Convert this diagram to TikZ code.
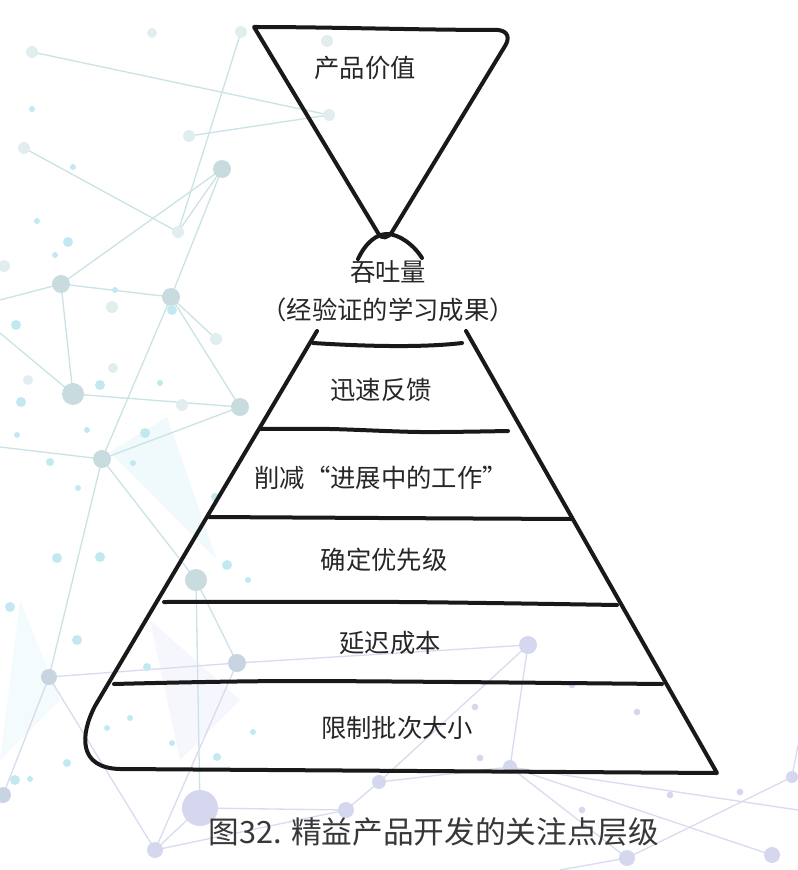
\documentclass[tikz,border=0pt]{standalone}
\usepackage{fontspec}
\newfontfamily\cjk{Noto Sans CJK SC}
\definecolor{dotpale}{HTML}{E2EDEF}
\definecolor{dotgray}{HTML}{C8DCE0}
\definecolor{dotcyan}{HTML}{C2E9F2}
\definecolor{dotblue}{HTML}{C9D4E2}
\definecolor{dotlav}{HTML}{D4D7EE}
\definecolor{webteal}{HTML}{CBE3E6}
\definecolor{weblav}{HTML}{D9DBEF}
\tikzset{
  ink/.style={line width=3pt,line cap=round,line join=round,draw=black!90},
  lbl/.style={font=\cjk\fontsize{19}{22}\selectfont,text=black!85,inner sep=0pt},
  webline/.style={line width=1pt,draw=webteal},
  lavline/.style={line width=1pt,draw=weblav}
}
\begin{document}
\begin{tikzpicture}[x=0.75pt,y=-0.75pt]
  \useasboundingbox (0,0) rectangle (798,870);
  % background web
  \fill[dotcyan,opacity=0.25] (167,417) -- (110,452) -- (217,560) -- cycle;
  \fill[dotcyan,opacity=0.2] (20,600) -- (60,700) -- (0,760) -- cycle;
  \fill[dotlav,opacity=0.2] (150,620) -- (240,700) -- (180,760) -- cycle;
  \foreach \n/\x/\y in {e1/0/300,e2/0/333,e3/0/447,e6/798/745,e7/560/870,e8/798/810}
    \coordinate (\n) at (\x,\y);
  \foreach \n/\x/\y in {a1/152/33,a2/32/52,a3/241/32,a4/327/41,a5/329/115,a6/189/136,
      a7/24/148,a10/222/169,a12/178/232,a15/4/266,a16/61/284,a17/171/297,a19/112/307,
      a22/216/339,a23/73/394,a24/240/407,a25/113/368,a27/28/380,a30/182/405,
      b1/102/459,b2/196/580,b3/237/663,b4/49/677,b5/200/808,b6/155/850,b7/3/795,
      c1/528/645,c2/510/767,c3/772/855,c4/627/858,c5/792/777,c6/346/810,c7/379/782}
    \coordinate (\n) at (\x,\y);
  \foreach \a/\b in {a2/a5,a3/a12,a6/a5,a7/a12,a10/a16,a10/a17,a16/a17,a16/e1,a16/a23,
      a17/a24,a17/b1,a23/a24,a23/e2,a12/a10,a24/b1,b1/e3,b1/b2,b1/b4,b2/b3,b2/b5,a22/a17}
    \draw[webline] (\a) -- (\b);
  \foreach \a/\b in {b3/b4,b3/b6,b4/b6,b4/b7,b3/c1,c1/c2,c1/c7,c2/c3,c2/c4,c5/c4,
      b5/c6,c6/c7,b6/c6,c7/c2,b5/b6,c5/e6,c2/e8,c4/e7}
    \draw[lavline] (\a) -- (\b);
  \foreach \n/\r/\c in {a1/5/dotpale,a2/6/dotpale,a3/6/dotpale,a4/6/dotpale,a5/6/dotpale,
      a6/6/dotpale,a7/6/dotpale,a10/9/dotgray,a12/6/dotpale,a15/6/dotpale,a16/9/dotgray,
      a17/9/dotgray,a19/6/dotpale,a22/6/dotpale,a23/11/dotgray,a24/9/dotgray,a25/5/dotpale,
      a27/5/dotpale,a30/6/dotpale,b1/9/dotgray,b2/11/dotgray,b3/9/dotblue,b4/8/dotblue,
      b5/18/dotlav,b6/8/dotlav,b7/8/dotblue,c1/9/dotlav,c2/7/dotlav,c3/8/dotlav,
      c4/8/dotlav,c5/6/dotlav,c6/8/dotlav,c7/7/dotlav}
    \fill[\c] (\n) circle[radius=0.75pt*\r];
  \foreach \x/\y/\r in {32/109/3,73/167/3,37/221/3,68/242/5,55/255/3,115/290/3,172/310/5,
      16/325/5,100/385/5,21/402/5,160/383/3,50/462/4,17/435/3,57/558/5,100/557/5,10/607/5,
      77/640/5,147/667/4,227/565/5,215/497/4,248/580/3,87/430/3,78/488/3,133/463/3,
      145/433/5,67/763/4,15/780/5,30/779/3,107/728/3,130/718/3,172/743/3,217/757/4,253/732/3}
    \fill[dotcyan] (\x,\y) circle[radius=0.75pt*\r];
  \foreach \x/\y in {582/810,740/792,670/795,637/712,475/707,480/758,572/685}
    \fill[dotlav] (\x,\y) circle[radius=2.5pt];
  % funnel
  \draw[ink] (254,27) .. controls (330,27) and (420,30) .. (498,30)
    .. controls (508,31) and (510,38) .. (505,46) -- (392,232)
    .. controls (388,238) and (382,240) .. (378,233) -- cycle;
  \draw[ink] (358,259) .. controls (366,242) and (377,234) .. (387,234)
    .. controls (399,234) and (414,245) .. (422,258);
  % pyramid
  \draw[ink] (317,331) -- (95,706) .. controls (80,735) and (78,768) .. (120,769)
    -- (717,773) -- (466,331);
  \draw[ink] (313,343) .. controls (360,346) and (420,348) .. (462,343);
  \draw[ink] plot[smooth] coordinates {(261,429) (330,429) (420,432) (508,431)};
  \draw[ink] plot[smooth] coordinates {(209,517) (380,518) (571,519)};
  \draw[ink] plot[smooth] coordinates {(164,602) (400,602) (617,605)};
  \draw[ink] plot[smooth] coordinates {(114,684) (300,681) (662,684)};
  % labels
  \node[lbl] (value) at (365,68) {产品价值};
  \node[lbl] (thru) at (388,272) {吞吐量};
  \node[lbl] (learn) at (388,310) {（经验证的学习成果）};
  \node[lbl] (feedback) at (381,390) {迅速反馈};
  \node[lbl] (wip) at (381,478) {削减“进展中的工作”};
  \node[lbl] (prio) at (384,560) {确定优先级};
  \node[lbl] (delay) at (390,643) {延迟成本};
  \node[lbl] (batch) at (397,728) {限制批次大小};
  \node[font=\cjk\fontsize{23}{27}\selectfont,text=black!78,inner sep=0pt] (caption)
    at (434,832) {图32. 精益产品开发的关注点层级};
\end{tikzpicture}
\end{document}
